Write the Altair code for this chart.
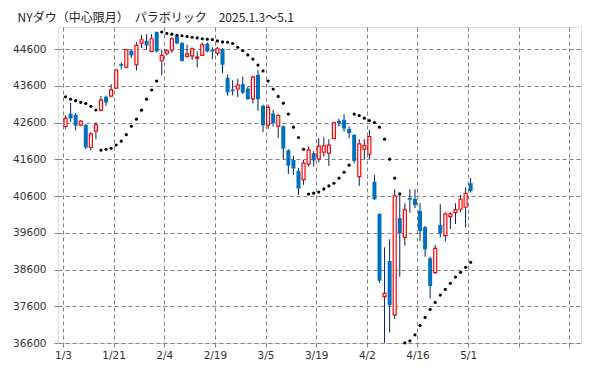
import altair as alt
import pandas as pd

# ---- data ----
dates = [
    "1/3", "1/6", "1/7", "1/8", "1/10", "1/13", "1/14", "1/15", "1/16", "1/17",
    "1/21", "1/22", "1/23", "1/24", "1/27", "1/28", "1/29", "1/30", "1/31",
    "2/3", "2/4", "2/5", "2/6", "2/7", "2/10", "2/11", "2/12", "2/13", "2/14",
    "2/18", "2/19", "2/20", "2/21", "2/24", "2/25", "2/26", "2/27", "2/28",
    "3/3", "3/4", "3/5", "3/6", "3/7", "3/10", "3/11", "3/12", "3/13", "3/14",
    "3/17", "3/18", "3/19", "3/20", "3/21", "3/24", "3/25", "3/26", "3/27", "3/28",
    "3/31", "4/1", "4/2", "4/3", "4/4", "4/7", "4/8", "4/9", "4/10", "4/11",
    "4/14", "4/15", "4/16", "4/17", "4/21", "4/22", "4/23", "4/24", "4/25",
    "4/28", "4/29", "4/30", "5/1",
]
opens = [
    42492, 42837, 42810, 42528, 42537, 41920, 42365, 42937, 43300, 43318,
    43536, 44190, 44109, 44554, 44172, 44762, 44826, 44535, 45062,
    44281, 44472, 44568, 44944, 44762, 44400, 44413, 44350, 44430, 44744,
    44581, 44490, 44599, 43818, 43495, 43513, 43645, 43522, 43245,
    43895, 43055, 42532, 42846, 42500, 42500, 41846, 41585, 41285, 41049,
    41467, 41766, 41607, 41792, 41765, 42164, 42646, 42673, 42428, 42264,
    41129, 41874, 41737, 40984, 40112, 37860, 38831, 37368, 40003, 39477,
    40548, 40521, 40194, 39750, 38904, 38513, 39813, 39522, 40039,
    40148, 40240, 40295, 40949,
]
highs = [
    42791, 43137, 42864, 42664, 42555, 42337, 42610, 43318, 43336, 43645,
    44064, 44236, 44599, 44581, 44790, 44990, 45000, 45008, 45080,
    44581, 44581, 44917, 44995, 44790, 44720, 44644, 44535, 44770, 44781,
    44650, 44650, 44626, 43900, 43750, 43786, 43855, 43570, 43877,
    44027, 43087, 43090, 42946, 42827, 42518, 41873, 41694, 41358, 41585,
    41948, 41821, 42175, 42201, 42146, 42628, 42700, 42828, 42491, 42282,
    42146, 42146, 42401, 41175, 40130, 39204, 39423, 40785, 40630, 40404,
    40785, 40785, 40410, 39785, 38948, 39268, 40384, 40158, 40158,
    40404, 40630, 40840, 41085,
]
lows = [
    42428, 42610, 42390, 42500, 41870, 41838, 42146, 42900, 43055, 43300,
    43509, 44054, 44081, 44354, 44018, 44626, 44581, 44517, 44508,
    43881, 44426, 44500, 44730, 44260, 44377, 44308, 44099, 44410, 44508,
    44320, 44420, 43945, 43330, 43340, 43295, 43373, 43218, 43120,
    42918, 42337, 42430, 42491, 42182, 41600, 41200, 41176, 40631, 40904,
    41403, 41403, 41512, 41674, 41420, 42146, 42491, 42355, 42173, 41492,
    40875, 41583, 41610, 40494, 38241, 36605, 36887, 37259, 38403, 39248,
    40147, 40267, 39380, 38948, 37805, 38480, 39477, 39366, 39703,
    39840, 40170, 39744, 40692,
]
closes = [
    42719, 42710, 42519, 42637, 41920, 42292, 42537, 43209, 43146, 43491,
    44030, 44145, 44581, 44426, 44699, 44853, 44699, 44880, 44535,
    44426, 44554, 44876, 44755, 44277, 44468, 44604, 44381, 44713, 44535,
    44535, 44622, 44172, 43418, 43450, 43622, 43413, 43236, 43836,
    43236, 42523, 43014, 42582, 42791, 41891, 41427, 41349, 40804, 41494,
    41857, 41566, 41956, 41965, 41983, 42591, 42582, 42437, 42310, 41556,
    42019, 41974, 42219, 40512, 38295, 37950, 37632, 40602, 39586, 40221,
    40502, 40357, 39652, 39150, 38150, 39177, 39586, 40112, 40112,
    40221, 40512, 40676, 40739,
]
sar = [
    43300, 43236, 43195, 43150, 43118, 43041, 42940, 41847, 41874, 41901,
    41988, 42092, 42270, 42500, 42692, 42937, 43237, 43486, 43727,
    45063, 45026, 45004, 44976, 44962, 44944, 44922, 44904, 44881, 44867,
    44858, 44822, 44795, 44785, 44750, 44650, 44554, 44440, 44326,
    44163, 44005, 43730, 43510, 43310, 43128, 42829, 42474, 42193, 41870,
    40653, 40677, 40708, 40793, 40875, 40948, 41085, 41248, 41439, 42829,
    42791, 42719, 42655, 42600, 42474, 42148, 41603, 41085, 40657, 36605,
    36659, 36823, 37078, 37296, 37514, 37705, 37905, 38059, 38223,
    38395, 38523, 38659, 38795,
]
tick_labels = ["1/3", "1/21", "2/4", "2/19", "3/5", "3/19", "4/2", "4/16", "5/1", "", ""]
y_ticks = [36600, 37600, 38600, 39600, 40600, 41600, 42600, 43600, 44600]
title_text = "NYダウ（中心限月）　パラボリック　2025.1.3～5.1"

df = pd.DataFrame({
    "date": dates, "open": opens, "high": highs, "low": lows,
    "close": closes, "sar": sar,
})
df["slot"] = df.index + 0.5

GRID = "#808080"
LBL = "#333333"
FONT = "DejaVu Sans"

label_expr = "[" + ",".join("'" + s + "'" for s in tick_labels) + "][round(datum.value / 10)]"

x_axis = alt.Axis(
    values=list(range(0, 101, 10)), labelExpr=label_expr, title=None,
    grid=True, gridDash=[4, 3], gridColor=GRID, gridWidth=1,
    ticks=True, tickSize=4, tickColor=GRID, domain=False,
    labelPadding=3, labelFont=FONT, labelFontSize=10.5, labelColor=LBL,
)
y_axis = alt.Axis(
    values=y_ticks, format="d", title=None,
    grid=True, gridDash=[4, 3], gridColor=GRID, gridWidth=1,
    ticks=True, tickSize=4, tickColor=GRID, domain=False,
    labelPadding=8, labelFont=FONT, labelFontSize=10.5, labelColor=LBL,
)
x_scale = alt.Scale(domain=[0, 101.3], nice=False, zero=False)
y_scale = alt.Scale(domain=[36600, 45200], nice=False, zero=False)

base = alt.Chart(df)
X = alt.X("slot:Q", scale=x_scale, axis=x_axis)

wicks = base.mark_rule(color="#002060", strokeWidth=1).encode(
    x=X,
    y=alt.Y("low:Q", scale=y_scale, axis=y_axis),
    y2="high:Q",
)
down = base.transform_filter("datum.close < datum.open").mark_bar(
    size=4, color="#0070C0"
).encode(
    x=X,
    y=alt.Y("open:Q", scale=y_scale, axis=y_axis),
    y2="close:Q",
)
up = base.transform_filter("datum.close >= datum.open").mark_bar(
    size=3, fill="white", stroke="#FF0000", strokeWidth=1.2
).encode(
    x=X,
    y=alt.Y("open:Q", scale=y_scale, axis=y_axis),
    y2="close:Q",
)
dots = base.mark_circle(size=10, color="black", opacity=1).encode(
    x=X,
    y=alt.Y("sar:Q", scale=y_scale, axis=y_axis),
)

chart = alt.layer(wicks, down, up, dots).properties(
    width=523,
    height=316,
    autosize=alt.AutoSizeParams(type="none"),
    padding={"left": 50, "top": 19, "right": 10, "bottom": 18},
    title=alt.TitleParams(
        title_text, anchor="start", font="Noto Sans CJK JP", fontSize=12,
        fontWeight="normal", color="#222222", offset=2, dx=5,
    ),
).configure_view(stroke=GRID, strokeWidth=1).configure(background="white")

chart.save("out.html", embed_options={"renderer": "svg", "actions": False})
